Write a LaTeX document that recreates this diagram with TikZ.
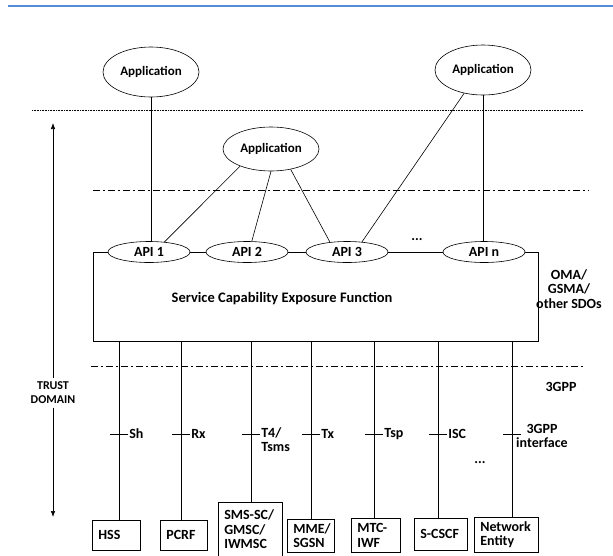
\documentclass[tikz,border=0pt]{standalone}
\usepackage{fontspec}
\setmainfont{Carlito}
\usetikzlibrary{shapes.geometric, arrows.meta}
\definecolor{rulebl}{RGB}{84,141,212}

\tikzset{
  app/.style={draw, ellipse, minimum width=96pt, minimum height=50pt, inner sep=0pt, font=\bfseries\fontsize{13}{15}\selectfont},
  api/.style={draw, ellipse, fill=white, minimum width=82pt, minimum height=21pt, inner sep=0pt},
  entity/.style={draw, anchor=north west, align=left, inner xsep=6pt, inner ysep=0pt, text width=#1},
  sepline/.style={dash pattern=on 7pt off 3pt on 2pt off 3pt},
  iflabel/.style={anchor=west, inner sep=1pt}
}

\begin{document}
\begin{tikzpicture}[x=1pt, y=-1pt, line width=0.6pt, font=\bfseries\fontsize{14}{14.5}\selectfont]
      \useasboundingbox (0,0) rectangle (613,555);
      \draw[rulebl, line width=1.5pt] (8,6) -- (613,6);

      % Boundaries:
      \draw[densely dotted] (32,110) -- (583,110);
      \draw[sepline] (93,190) -- (589,190);
      \draw[sepline] (91,366) -- (585,366);

      % SCEF and its APIs:
      \node[draw, anchor=north west, minimum width=445pt, minimum height=89pt, inner sep=0pt] (scef) at (93,252) {};
      \node[font=\bfseries\fontsize{14.5}{16}\selectfont] (sceftxt) at (282,299) {Service Capability Exposure Function};
      \node[api] (api1) at (149,252) {API 1};
      \node[api] (api2) at (247,252) {API 2};
      \node[api] (api3) at (347,252) {API 3};
      \node[api] (apin) at (484,252) {API n};
      \node (dots1) at (417,240) {...};

      % Applications:
      \node[app] (app1) at (151,72) {Application};
      \node[app, minimum height=44pt] (app2) at (271,149) {Application};
      \node[app] (app3) at (483,70) {Application};
      \draw (app1) -- (app1 |- api1.north);
      \draw (app3) -- (app3 |- apin.north);
      \draw (app3.231) -- (api3.34);
      \draw (app2.209) -- (api1.33);
      \draw (app2.270) -- (api2.66);
      \draw (app2.314) -- (api3.150);

      % Side texts:
      \node[align=center] (sdo) at (569,289) {OMA/\\GSMA/\\other SDOs};
      \node (tgpp) at (561,387) {3GPP};
      \node[align=center, font=\bfseries\fontsize{12}{14}\selectfont] (trust) at (53,393) {TRUST\\DOMAIN};
      \coordinate (tdtop) at (53,123);
      \coordinate (tdbot) at (53,517);
      \draw[-{Latex[length=6pt, width=4.5pt]}] (trust) -- (tdtop);
      \draw[-{Latex[length=6pt, width=4.5pt]}] (trust) -- (tdbot);

      % Network entities:
      \node[entity=36pt, minimum height=30pt] (hss) at (92,520) {HSS};
      \node[entity=35pt, minimum height=30pt] (pcrf) at (160,520) {PCRF};
      \node[entity=52pt, minimum height=54pt] (sms) at (218,502) {SMS-SC/\\GMSC/\\IWMSC};
      \node[entity=35pt, minimum height=33pt] (mme) at (287,519) {MME/\\SGSN};
      \node[entity=37pt, minimum height=34pt] (mtc) at (351,518) {MTC-\\IWF};
      \node[entity=41pt, minimum height=32pt] (cscf) at (414,518) {S-CSCF};
      \node[entity=52pt, minimum height=35pt] (ne) at (474,517) {Network\\Entity};
      \node (dots2) at (480,463) {...};

      % Interfaces:
      \foreach \n/\x in {hss/119, pcrf/181, sms/251, mme/311, mtc/374, cscf/438, ne/512} {
        \draw (\x,0 |- scef.south) -- (\x,0 |- \n.north);
        \draw ({\x-9},434) -- ({\x+9},434);
      }
      \node[iflabel] (ifsh) at (128,434) {Sh};
      \node[iflabel] (ifrx) at (190,434) {Rx};
      \node[iflabel, anchor=north west, align=left] (ift4) at (260,426) {T4/\\Tsms};
      \node[iflabel] (iftx) at (320,434) {Tx};
      \node[iflabel] (iftsp) at (383,434) {Tsp};
      \node[iflabel] (ifisc) at (447,434) {ISC};
      \node[iflabel, anchor=center, align=center] (if3g) at (542,436) {3GPP\\interface};
\end{tikzpicture}
\end{document}
